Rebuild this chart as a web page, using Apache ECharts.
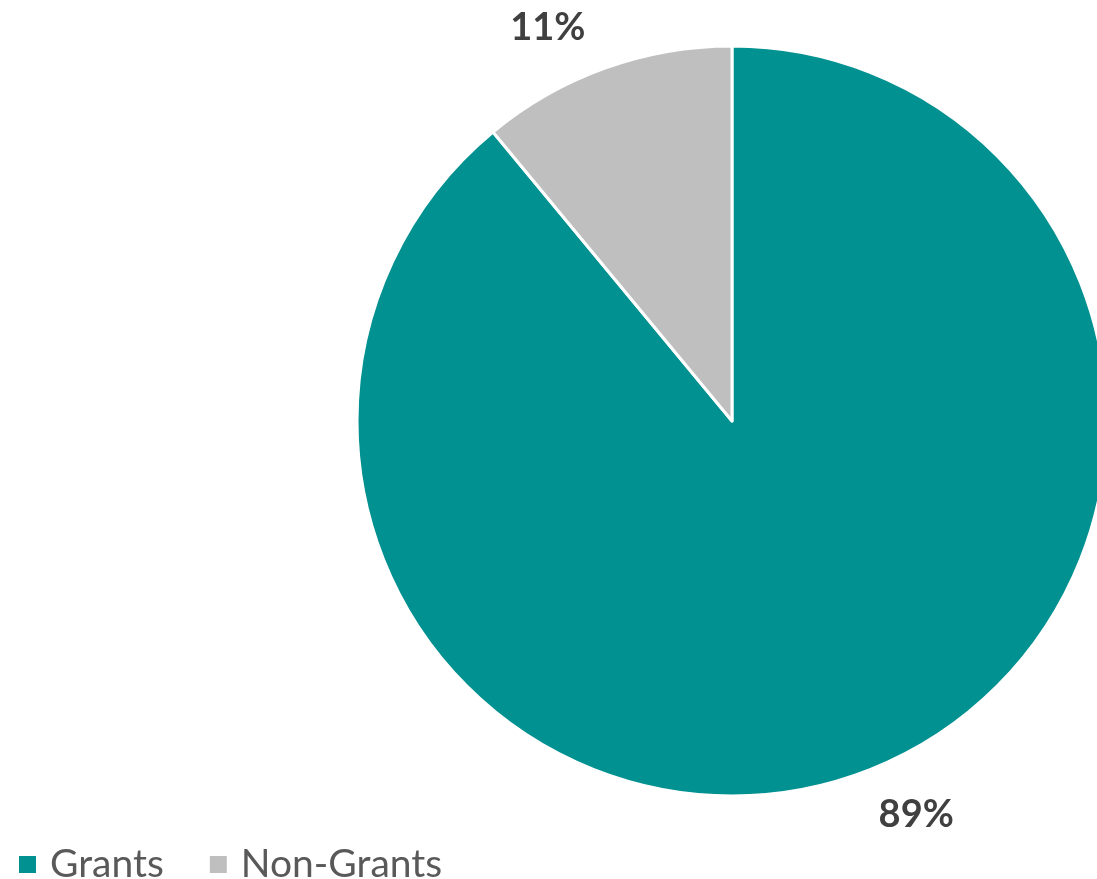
<!DOCTYPE html>
<html>
<head>
<meta charset="utf-8">
<script src="https://cdn.jsdelivr.net/npm/echarts@6/dist/echarts.min.js"></script>
<style>html,body{margin:0;padding:0;background:#fff;}#c{width:1097px;height:879px;}</style>
</head>
<body>
<div id="c"></div>
<script>
const categories = ['Grants', 'Non-Grants'];
const values = [89, 11];
const colors = ['#009190', '#BFBFBF'];

const chart = echarts.init(document.getElementById('c'));
chart.setOption({
  animation: false,
  legend: {
    data: categories,
    left: 12,
    top: 840,
    icon: 'rect',
    itemWidth: 19,
    itemHeight: 19,
    itemGap: 44,
    textStyle: { fontFamily: 'Lato', fontSize: 39, color: '#595959', padding: [0, 0, 0, 8] }
  },
  series: [{
    type: 'pie',
    center: [732, 421],
    radius: 375,
    startAngle: 90,
    clockwise: true,
    itemStyle: { borderColor: '#fff', borderWidth: 3 },
    label: {
      show: true,
      position: 'outside',
      formatter: '{d}%',
      fontFamily: 'Lato',
      fontWeight: 'bold',
      fontSize: 38,
      color: '#404040'
    },
    labelLine: { show: false, length: 43, length2: 0 },
    data: categories.map((c, i) => ({ name: c, value: values[i], itemStyle: { color: colors[i] } }))
  }]
});
</script>
</body>
</html>
